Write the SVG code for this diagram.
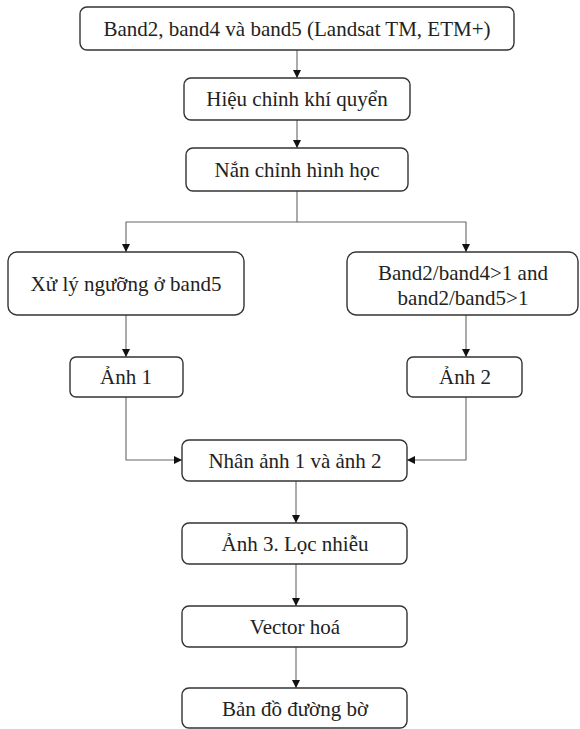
<svg xmlns="http://www.w3.org/2000/svg" width="580" height="729" viewBox="0 0 580 729">
<style>
.box{fill:#fff;stroke:#333;stroke-width:1.4}
.t{font-family:"Liberation Serif","Times New Roman",serif;font-size:21px;fill:#222;text-anchor:middle}
.c{fill:none;stroke:#666;stroke-width:1.1}
</style>
<defs>
<marker id="ah" viewBox="0 0 10 10" refX="10" refY="5" markerWidth="8" markerHeight="8" markerUnits="userSpaceOnUse" orient="auto">
<path d="M0,0 L10,5 L0,10 Z" fill="#111"/>
</marker>
</defs>
<rect width="580" height="729" fill="#fff"/>
<g id="connectors">
<path class="c" d="M297,50 V78" marker-end="url(#ah)"/>
<path class="c" d="M297,120 V148" marker-end="url(#ah)"/>
<path class="c" d="M297,191 V222 H126 V252" marker-end="url(#ah)"/>
<path class="c" d="M297,222 H466 V252" marker-end="url(#ah)"/>
<path class="c" d="M126,315 V357" marker-end="url(#ah)"/>
<path class="c" d="M466,315 V357" marker-end="url(#ah)"/>
<path class="c" d="M126,397 V460 H182" marker-end="url(#ah)"/>
<path class="c" d="M466,397 V460 H407" marker-end="url(#ah)"/>
<path class="c" d="M296,481 V523" marker-end="url(#ah)"/>
<path class="c" d="M296,564 V606" marker-end="url(#ah)"/>
<path class="c" d="M296,647 V688" marker-end="url(#ah)"/>
</g>
<g id="n1"><rect class="box" x="80" y="7" width="434" height="43" rx="7"/><text class="t" x="297" y="36">Band2, band4 và band5 (Landsat TM, ETM+)</text></g>
<g id="n2"><rect class="box" x="184" y="78" width="226" height="42" rx="7"/><text class="t" x="297" y="106">Hiệu chỉnh khí quyển</text></g>
<g id="n3"><rect class="box" x="186" y="148" width="222" height="43" rx="7"/><text class="t" x="297" y="177">Nắn chỉnh hình học</text></g>
<g id="n4"><rect class="box" x="8" y="252" width="236" height="63" rx="9"/><text class="t" x="126" y="291">Xử lý ngưỡng ở band5</text></g>
<g id="n5"><rect class="box" x="347" y="252" width="231" height="63" rx="9"/><text class="t" x="463" y="280">Band2/band4&gt;1 and</text><text class="t" x="463" y="305">band2/band5&gt;1</text></g>
<g id="n6"><rect class="box" x="70" y="357" width="113" height="40" rx="6"/><text class="t" x="126" y="384">Ảnh 1</text></g>
<g id="n7"><rect class="box" x="407" y="357" width="115" height="40" rx="6"/><text class="t" x="465" y="384">Ảnh 2</text></g>
<g id="n8"><rect class="box" x="182" y="440" width="225" height="41" rx="7"/><text class="t" x="295" y="468">Nhân ảnh 1 và ảnh 2</text></g>
<g id="n9"><rect class="box" x="182" y="523" width="225" height="41" rx="7"/><text class="t" x="295" y="551">Ảnh 3. Lọc nhiễu</text></g>
<g id="n10"><rect class="box" x="182" y="606" width="225" height="41" rx="7"/><text class="t" x="295" y="634">Vector hoá</text></g>
<g id="n11"><rect class="box" x="182" y="688" width="225" height="40" rx="7"/><text class="t" x="295" y="716">Bản đồ đường bờ</text></g>
</svg>
